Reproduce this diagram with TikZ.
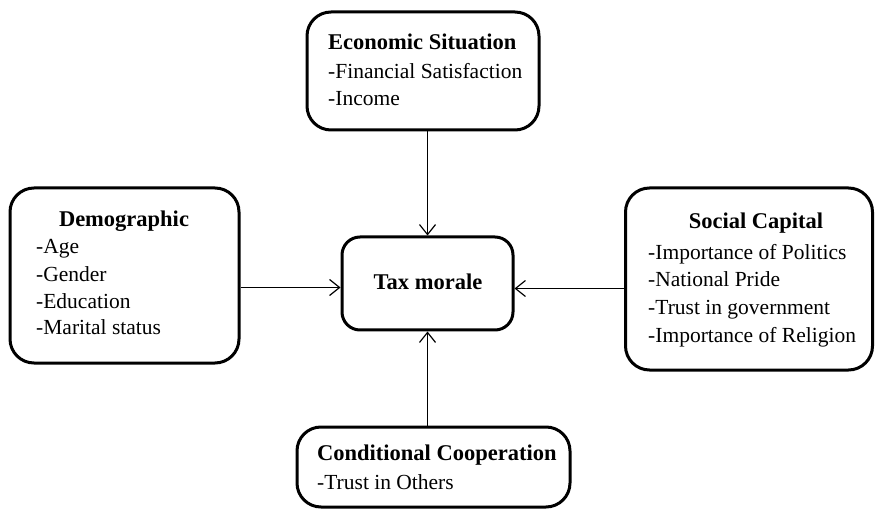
\documentclass[tikz,border=0pt]{standalone}
\usepackage{fontspec}
\setmainfont{Liberation Serif}
\usetikzlibrary{arrows.meta}
\begin{document}
\begin{tikzpicture}[x=1pt,y=-1pt,
  box/.style={draw, line width=3pt, rounded corners=24pt, inner sep=0pt, fill=white},
  txt/.style={inner sep=0pt, anchor=base west, font=\fontsize{21.5}{26}\selectfont},
  ttl/.style={txt, font=\fontsize{22.5}{26}\selectfont\bfseries},
  arr/.style={line width=1.2pt, -{Straight Barb[length=10pt,width=16pt,line width=1.2pt]}}]
\useasboundingbox[fill=white] (0,0) rectangle (875,510);
% boxes
\node[box, minimum width=232pt, minimum height=118pt] (econ) at (423,71) {};
\node[box, minimum width=229pt, minimum height=175pt] (demo) at (124.5,275.5) {};
\node[box, minimum width=247pt, minimum height=182pt] (soc) at (749,279) {};
\node[box, minimum width=273pt, minimum height=80pt] (cond) at (433.5,467) {};
\node[box, rounded corners=18pt, minimum width=171pt, minimum height=93pt] (tax) at (427.5,283.5) {};
% texts
\node[ttl] (econT) at (328,50) {Economic Situation};
\node[txt] (econ1) at (328,79) {-Financial Satisfaction};
\node[txt] (econ2) at (328,106) {-Income};
\node[ttl, anchor=base] (demoT) at (124,227) {Demographic};
\node[txt] (demo1) at (36,254) {-Age};
\node[txt] (demo2) at (36,282) {-Gender};
\node[txt] (demo3) at (36,309) {-Education};
\node[txt] (demo4) at (36,335) {-Marital status};
\node[ttl, anchor=base] (socT) at (756,229) {Social Capital};
\node[txt] (soc1) at (648,260) {-Importance of Politics};
\node[txt] (soc2) at (648,287) {-National Pride};
\node[txt] (soc3) at (648,315) {-Trust in government};
\node[txt] (soc4) at (648,342) {-Importance of Religion};
\node[ttl] (condT) at (317,460) {Conditional Cooperation};
\node[txt] (cond1) at (317,489) {-Trust in Others};
\node[ttl, anchor=base] (taxT) at (428,290) {Tax morale};
% arrows
\draw[arr] (econ.south -| tax.north) -- (tax.north);
\draw[arr] (cond.north -| tax.south) -- (tax.south);
\draw[arr] ([yshift=-4pt]demo.east |- tax.west) -- ([yshift=-4pt]tax.west);
\draw[arr] ([yshift=-5pt]soc.west |- tax.east) -- ([yshift=-5pt]tax.east);
\end{tikzpicture}
\end{document}
